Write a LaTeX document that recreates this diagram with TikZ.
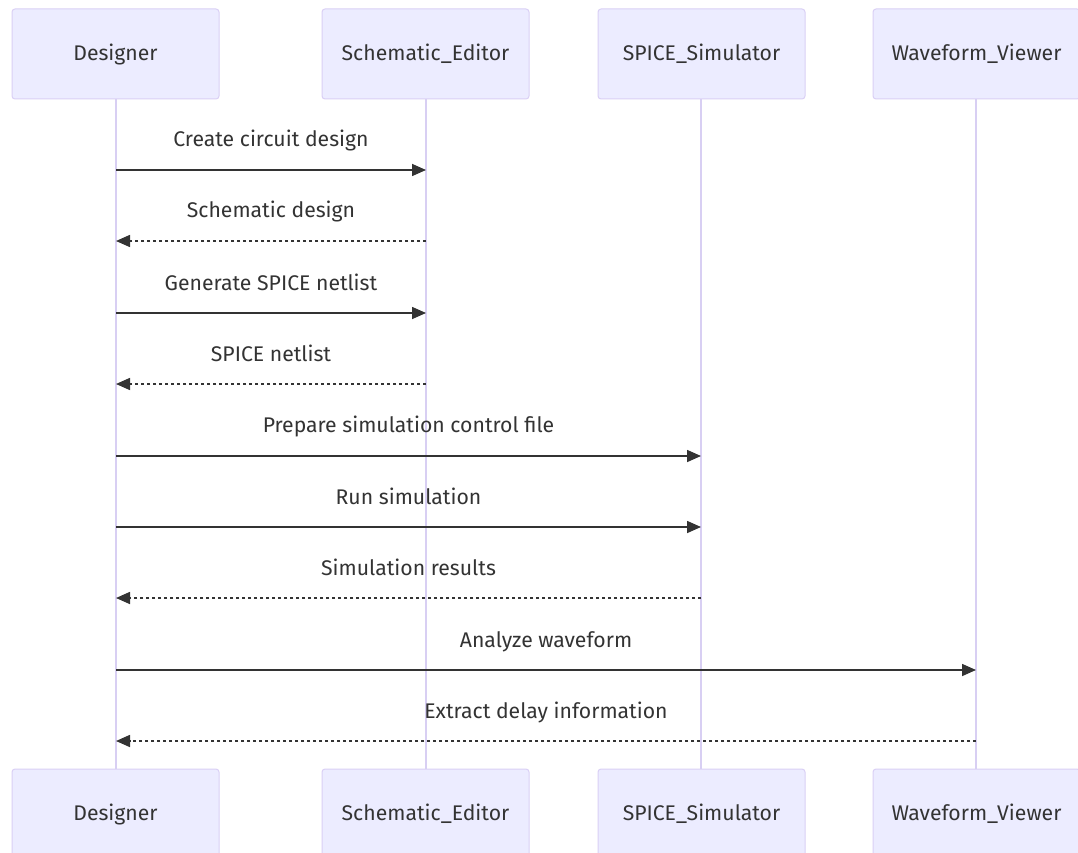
\documentclass[tikz,border=0pt]{standalone}
\usepackage{fontspec}
\setmainfont{Fira Sans}
\usetikzlibrary{arrows.meta}
\definecolor{actfill}{HTML}{ECECFF}
\definecolor{actline}{HTML}{DAD0F5}
\definecolor{lifeline}{HTML}{D8CFF3}
\definecolor{msg}{HTML}{333333}
\newcommand{\acttext}[1]{\raisebox{-2pt}{#1}}
\tikzset{
  x=1pt,y=-1pt,
  actor/.style={draw=actline, fill=actfill, line width=1pt, rounded corners=3pt,
    minimum width=207pt, minimum height=90pt, inner sep=0pt,
    font=\fontsize{21.2}{25}\selectfont, text=msg},
  life/.style={draw=lifeline, line width=1.6pt},
  msgline/.style={draw=msg, line width=1.6pt, -{Triangle[length=14pt,width=12pt]}},
  reply/.style={msgline, dash pattern=on 3pt off 3pt},
  lbl/.style={font=\fontsize{21.2}{25}\selectfont, text=msg, inner sep=0pt, anchor=base}
}
\begin{document}
\begin{tikzpicture}
\useasboundingbox (0,0) rectangle (1078,853);
\clip (0,0) rectangle (1078,853);
\fill[white] (0,0) rectangle (1078,853);
% lifelines (drawn first)
\coordinate (d1) at (116,99);  \coordinate (d2) at (116,769);
\coordinate (s1) at (426,99);  \coordinate (s2) at (426,769);
\coordinate (p1) at (701,99);  \coordinate (p2) at (701,769);
\coordinate (w1) at (976,99);  \coordinate (w2) at (976,769);
\draw[life] (d1) -- (d2);
\draw[life] (s1) -- (s2);
\draw[life] (p1) -- (p2);
\draw[life] (w1) -- (w2);
% actors top
\node[actor] (dt) at (115.5,54) {\acttext{Designer}};
\node[actor] (st) at (425.5,54) {\acttext{Schematic\_Editor}};
\node[actor] (pt) at (701.5,54) {\acttext{SPICE\_Simulator}};
\node[actor] (wt) at (976.5,54) {\acttext{Waveform\_Viewer}};
% actors bottom
\node[actor] (db) at (115.5,814) {\acttext{Designer}};
\node[actor] (sb) at (425.5,814) {\acttext{Schematic\_Editor}};
\node[actor] (pb) at (701.5,814) {\acttext{SPICE\_Simulator}};
\node[actor] (wb) at (976.5,814) {\acttext{Waveform\_Viewer}};
% message anchor coordinates
\foreach \n/\y in {1/170,2/241,3/313,4/384,5/456,6/527,7/598,8/670,9/741}{
  \coordinate (D\n) at (116,\y);
  \coordinate (S\n) at (426,\y);
  \coordinate (P\n) at (701,\y);
  \coordinate (W\n) at (976,\y);
}
% messages
\draw[msgline] (D1) -- (S1);
\node[lbl] (l1) at (271,147) {Create circuit design};
\draw[reply] (S2) -- (D2);
\node[lbl] (l2) at (271,218) {Schematic design};
\draw[msgline] (D3) -- (S3);
\node[lbl] (l3) at (271,290) {Generate SPICE netlist};
\draw[reply] (S4) -- (D4);
\node[lbl] (l4) at (271,361) {SPICE netlist};
\draw[msgline] (D5) -- (P5);
\node[lbl] (l5) at (408.5,432) {Prepare simulation control file};
\draw[msgline] (D6) -- (P6);
\node[lbl] (l6) at (408.5,504) {Run simulation};
\draw[reply] (P7) -- (D7);
\node[lbl] (l7) at (408.5,575) {Simulation results};
\draw[msgline] (D8) -- (W8);
\node[lbl] (l8) at (546,647) {Analyze waveform};
\draw[reply] (W9) -- (D9);
\node[lbl] (l9) at (546,718) {Extract delay information};
\end{tikzpicture}
\end{document}
